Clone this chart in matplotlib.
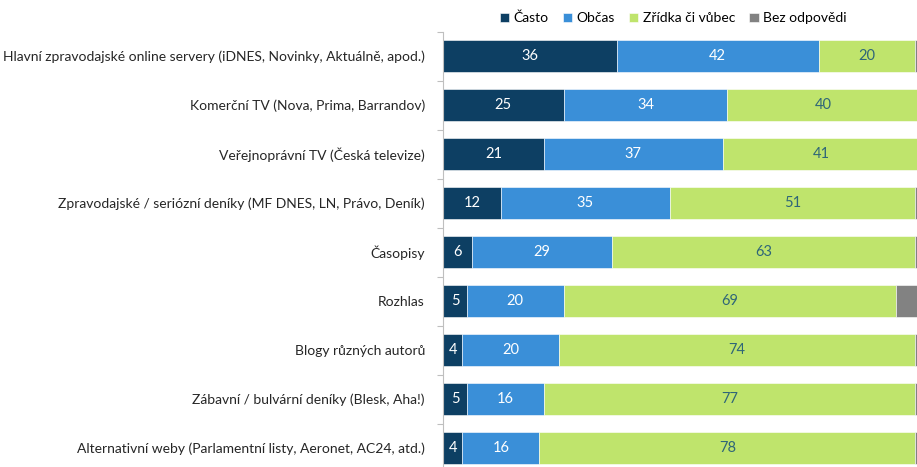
import matplotlib.pyplot as plt
import numpy as np

plt.rcParams['font.family'] = ['Lato', 'DejaVu Sans']

categories = [
    "Hlavní zpravodajské online servery (iDNES, Novinky, Aktuálně, apod.)",
    "Komerční TV (Nova, Prima, Barrandov)",
    "Veřejnoprávní TV (Česká televize)",
    "Zpravodajské / seriózní deníky (MF DNES, LN, Právo, Deník)",
    "Časopisy",
    "Rozhlas",
    "Blogy různých autorů",
    "Zábavní / bulvární deníky (Blesk, Aha!)",
    "Alternativní weby (Parlamentní listy, Aeronet, AC24, atd.)",
]
casto = [36, 25, 21, 12, 6, 5, 4, 5, 4]
obcas = [42, 34, 37, 35, 29, 20, 20, 16, 16]
zridka = [20, 40, 41, 51, 63, 69, 74, 77, 78]
bez = [2, 1, 1, 2, 2, 6, 2, 2, 2]

series = [
    ("Často", casto, "#0d3f63", "white"),
    ("Občas", obcas, "#3a8fd8", "white"),
    ("Zřídka či vůbec", zridka, "#bfe46c", "#2f6678"),
    ("Bez odpovědi", bez, "#828282", "white"),
]

fig = plt.figure(figsize=(9.17, 4.67), dpi=100)
ax = fig.add_axes([443 / 917, -5.5 / 467, 474 / 917, 441 / 467])

y = np.arange(len(categories))
left = np.zeros(len(categories))
handles = []
for name, vals, color, tcolor in series:
    vals = np.array(vals, dtype=float)
    bars = ax.barh(y, vals, left=left, height=0.67, color=color,
                   edgecolor="white", linewidth=0.4, label=name)
    handles.append(bars)
    if name != "Bez odpovědi":
        for yi, l, v in zip(y, left, vals):
            ax.text(l + v / 2, yi, f"{int(v)}", ha="center", va="center",
                    color=tcolor, fontsize=10.5)
    left += vals

ax.set_xlim(0, 474 / 4.82)
ax.set_ylim(len(categories) - 0.5, -0.5)
ax.set_xticks([])
ax.set_yticks(y)
ax.set_yticklabels(categories, fontsize=10, color="#262626")
ax.set_yticks(np.arange(-0.5, len(categories), 1), minor=True)
ax.tick_params(axis="y", which="major", length=0, pad=13)
ax.tick_params(axis="y", which="minor", length=4, color="#bfbfbf", width=0.8)
for s in ["top", "right", "bottom"]:
    ax.spines[s].set_visible(False)
ax.spines["left"].set_color("#bfbfbf")
ax.spines["left"].set_linewidth(0.8)

fig.legend(handles=handles, loc="center", bbox_to_anchor=(673 / 917, 1 - 18 / 467),
           ncol=4, frameon=False, fontsize=10, handlelength=0.7, handleheight=0.7,
           handletextpad=0.3, columnspacing=1.0)

fig.savefig("out.png", dpi=100)
